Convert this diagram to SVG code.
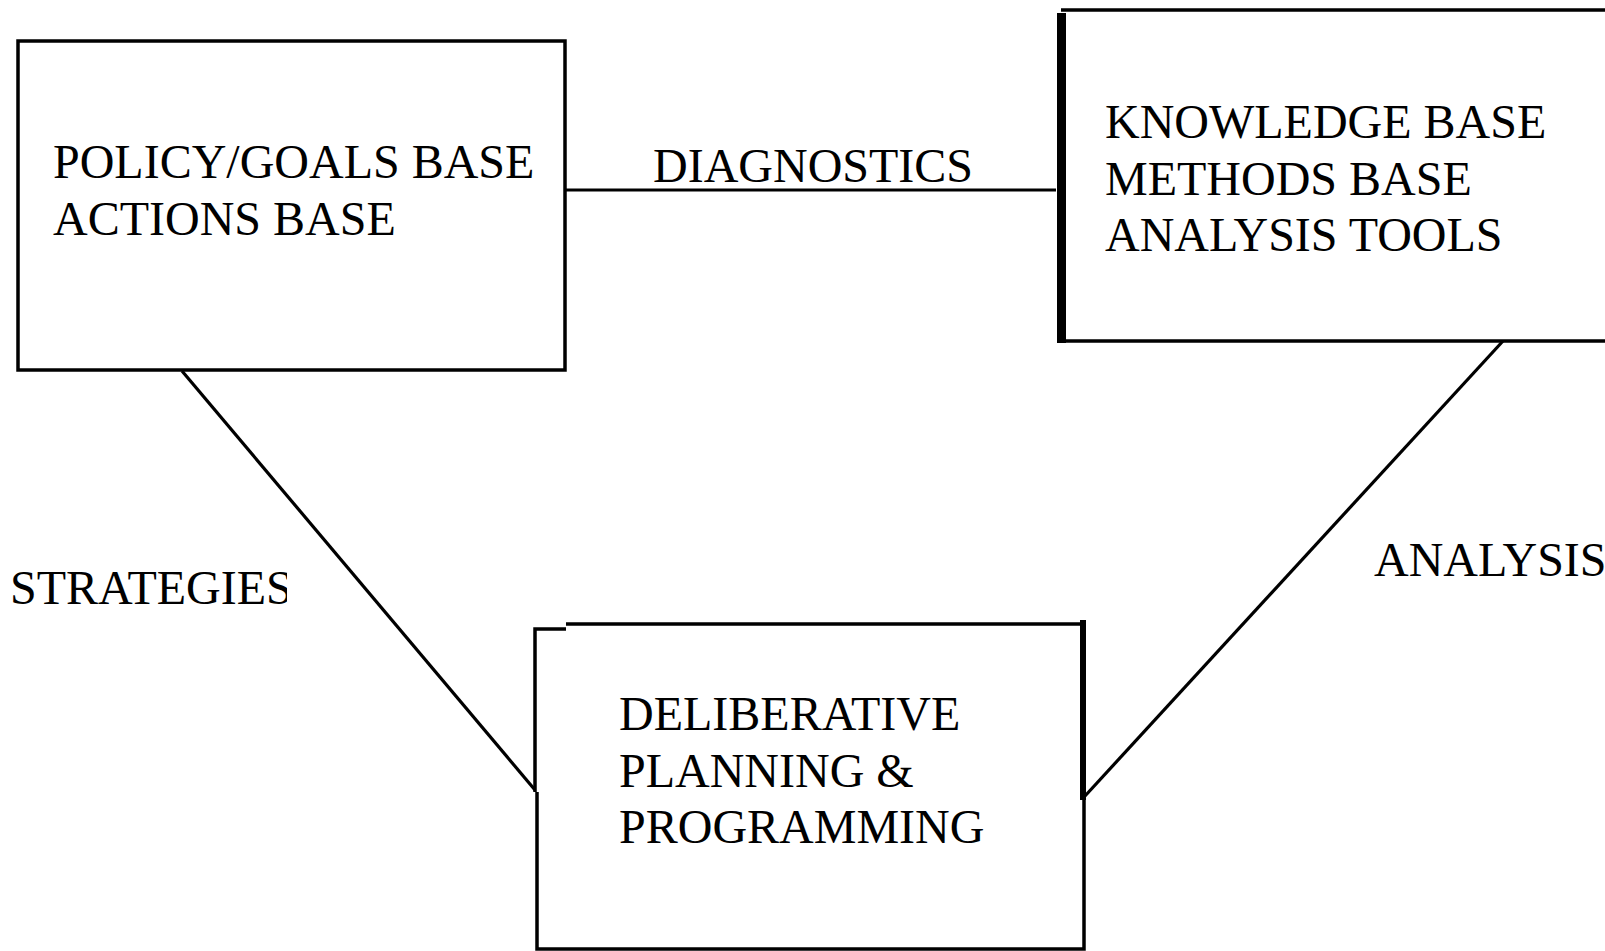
<svg xmlns="http://www.w3.org/2000/svg" width="1605" height="951" viewBox="0 0 1605 951">
<style>
.box{fill:none;stroke:#000;stroke-width:3.5}
.thick{stroke:#000;stroke-width:9;fill:none}
.conn{stroke:#000;stroke-width:3.2;fill:none}
text{font-family:"Liberation Serif","Times New Roman",serif;font-size:48px;fill:#000}
</style>
<defs>
<clipPath id="clipStrat"><rect x="0" y="540" width="287" height="100"/></clipPath>
</defs>
<rect width="1605" height="951" fill="#fff"/>
<g id="connectors">
<line class="conn" x1="565" y1="190" x2="1056" y2="190"/>
<line class="conn" x1="182" y1="371" x2="535" y2="790"/>
<line class="conn" x1="1503" y1="341" x2="1085" y2="796"/>
</g>
<g id="node-policy">
<rect class="box" x="18" y="41" width="547" height="329"/>
<text x="53" y="178">POLICY/GOALS BASE</text>
<text x="53" y="235">ACTIONS BASE</text>
</g>
<g id="node-knowledge">
<path class="box" d="M1061 10 H1610 M1061 341 H1610"/>
<line class="thick" x1="1061.5" y1="13" x2="1061.5" y2="343"/>
<text x="1105" y="138">KNOWLEDGE BASE</text>
<text x="1105" y="195">METHODS BASE</text>
<text x="1105" y="251">ANALYSIS TOOLS</text>
</g>
<g id="node-deliberative">
<path class="box" d="M535 792 V629 H566 M566 624 H1083 M537 792 V949 H1084 V796"/>
<line class="thick" x1="1083" y1="620" x2="1083" y2="800" style="stroke-width:6"/>
<text x="619" y="730">DELIBERATIVE</text>
<text x="619" y="787">PLANNING &amp;</text>
<text x="619" y="843">PROGRAMMING</text>
</g>
<g id="labels">
<text x="10" y="604" clip-path="url(#clipStrat)">STRATEGIES</text>
<text x="1374" y="576">ANALYSIS</text>
<text x="653" y="182">DIAGNOSTICS</text>
</g>
</svg>
